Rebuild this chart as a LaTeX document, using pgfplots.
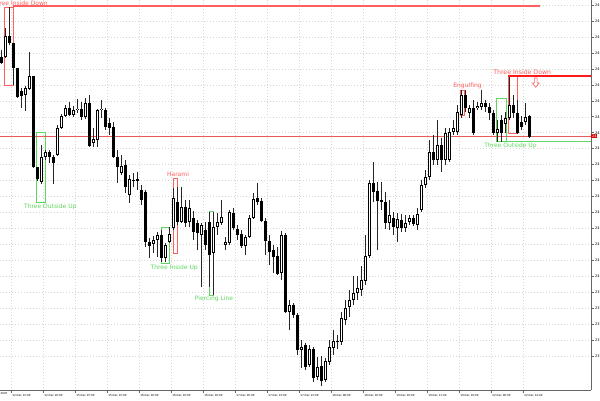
\documentclass[border=0pt]{standalone}
\usepackage{fontspec}
\setmainfont{DejaVu Sans}
\usepackage{pgfplots}
\usepackage{pgfplotstable}
\pgfplotsset{compat=1.18}
\definecolor{patred}{RGB}{255,95,95}
\definecolor{patgreen}{RGB}{95,215,95}
\definecolor{bidline}{RGB}{235,90,90}

% candles: x position, open, high, low, close (y measured downwards, as on screen)
\pgfplotstableread{
x o h l c
1.3 57 50 64 63
5.3 57 28 58 36
9.3 36 7 45 43
13.3 43 43 85 68
17.3 68 68 98 97
21.3 91 88 108 96
25.3 95 86 111 88
29.3 89 52 90 76
33.3 76 76 168 167
37.3 167 167 181 179
41.3 182 145 184 157
45.3 157 150 160 152
49.3 152 150 163 157
53.3 157 155 184 163
57.3 155 125 156 128
61.3 128 114 129 116
65.3 116 105 117 108
69.3 108 102 116 115
73.3 115 106 117 110
77.3 110 99 113 109
81.3 109 102 120 117
85.3 117 98 119 103
89.3 103 95 147 146
93.3 143 128 147 139
97.3 140 109 147 110
101.3 110 100 118 109
105.3 110 108 130 127
109.3 123 118 135 128
113.3 127 122 158 157
117.3 157 150 183 167
121.3 173 155 175 166
125.3 165 160 193 187
129.3 195 175 203 179
133.3 180 173 187 180
137.3 179 172 190 181
141.3 190 185 205 200
145.3 192 190 247 242
149.3 242 238 258 246
153.3 244 236 253 240
157.3 240 232 257 235
161.3 235 230 262 258
165.3 258 243 262 245
169.3 242 227 243 234
173.3 228 188 230 198
177.3 202 187 225 222
181.3 222 187 223 207
185.3 207 200 227 223
189.3 222 200 227 208
193.3 218 211 240 232
197.3 223 220 250 233
201.3 235 223 287 225
205.3 230 222 250 245
209.3 222 212 287 255
213.3 253 212 295 227
217.3 227 213 235 222
221.3 223 200 225 217
225.3 245 237 250 242
229.3 243 210 245 212
233.3 213 208 230 228
237.3 229 225 240 235
241.3 234 230 248 246
245.3 246 235 255 237
249.3 237 215 238 218
253.3 218 193 219 199
257.3 198 183 205 202
261.3 201 198 222 221
265.3 221 218 255 241
269.3 241 235 265 252
273.3 250 245 273 257
277.3 256 247 275 274
281.3 273 231 280 235
285.3 235 233 313 312
289.3 312 300 330 305
293.3 305 303 318 315
297.3 315 313 355 350
301.3 350 340 368 347
305.3 345 343 370 367
309.3 365 345 367 349
313.3 349 347 382 378
317.3 377 357 380 367
321.3 366 356 386 381
325.3 380 358 382 361
329.3 362 340 365 347
333.3 348 330 355 341
337.3 341 335 349 342
341.3 342 312 345 318
345.3 320 300 325 308
349.3 307 290 317 300
353.3 300 276 305 293
357.3 293 276 300 288
361.3 290 266 296 280
365.3 281 235 285 256
369.3 256 180 258 183
373.3 183 162 202 192
377.3 191 182 250 201
381.3 200 182 210 202
385.3 202 192 229 223
389.3 223 200 230 215
393.3 218 212 235 227
397.3 228 213 242 219
401.3 220 214 232 228
405.3 228 215 232 223
409.3 222 215 225 218
413.3 218 215 226 224
417.3 225 208 230 214
421.3 210 180 212 185
425.3 185 170 188 177
429.3 177 140 180 152
433.3 152 135 165 160
437.3 160 120 165 145
441.3 145 138 172 160
445.3 160 128 165 133
449.3 160 128 162 132
453.3 132 120 135 128
457.3 132 105 135 112
461.3 115 90 118 95
465.3 95 90 112 108
469.3 113 105 118 108
473.3 108 100 135 133
477.3 108 102 110 106
481.3 107 90 110 103
485.3 103 100 112 107
489.3 107 103 120 113
493.3 113 110 135 133
497.3 133 120 142 129
501.3 120 115 142 133
505.3 124 112 133 118
509.3 118 77 120 105
513.3 105 95 118 113
517.3 113 100 134 133
521.3 122 116 130 127
525.3 122 103 125 117
529.3 116 115 138 137
}\candles

\begin{document}
\begin{tikzpicture}
\begin{axis}[
  at={(-30pt,0pt)}, anchor=south west,
  scale only axis, width=621pt, height=390pt,
  xmin=-30, xmax=591, ymin=0, ymax=390,
  y dir=reverse,
  axis x line*=bottom, axis y line*=right,
  axis line style={black!60, line width=0.9pt, -},
  tick align=outside, major tick length=3pt,
  tick style={black!60, line width=0.6pt},
  xtick={11.7,43.7,75.7,107.7,139.7,171.7,203.7,235.7,267.7,299.7,331.7,363.7,395.7,427.7,459.7,491.7,523.7},
  xticklabels={12 Dec 12:00,12 Dec 20:00,15 Dec 07:00,15 Dec 15:00,16 Dec 02:00,16 Dec 10:00,16 Dec 18:00,17 Dec 05:00,17 Dec 13:00,17 Dec 21:00,18 Dec 08:00,18 Dec 16:00,19 Dec 03:00,19 Dec 11:00,19 Dec 19:00,22 Dec 06:00,22 Dec 14:00},
  xticklabel style={font=\fontsize{2.7}{3}\selectfont, anchor=north west, inner xsep=0.5pt, inner ysep=1pt},
  % price labels: only the leading digits fit inside the picture
  ytick={356,340.05,324.1,308.15,292.2,276.25,260.3,244.35,228.4,212.45,196.5,180.55,164.6,148.65,132.7,116.75,100.8,84.85,68.9,52.95,37,21.05,5.1},
  yticklabels={23,23,23,23,23,24,24,24,24,24,24,24,24,24,24,24,24,24,24,24,24,24,24},
  yticklabel style={font=\fontsize{3.6}{4}\selectfont, anchor=west, inner xsep=0.8pt},
  grid=major,
  grid style={black!16, line width=0.5pt, dash pattern=on 1pt off 2pt},
  clip=false,
]
% pattern boxes and levels
\draw[patred, line width=1pt] (axis cs:4.5,7) rectangle (axis cs:13.5,85);
\draw[patred, line width=1.3pt] (axis cs:13.5,6) -- (axis cs:540,6);
\draw[patgreen, line width=0.9pt] (axis cs:36.3,132) rectangle (axis cs:45,202);
\draw[patgreen, line width=0.9pt] (axis cs:161,227.3) rectangle (axis cs:169.3,263.3);
\draw[patred, line width=0.9pt] (axis cs:173.3,178) rectangle (axis cs:177.8,253);
\draw[patgreen, line width=0.9pt] (axis cs:209,211.7) rectangle (axis cs:213.7,295);
\draw[patred, line width=0.9pt] (axis cs:460,90) rectangle (axis cs:464.3,115);
\draw[patgreen, line width=0.9pt] (axis cs:496.7,98.3) rectangle (axis cs:506,141.7);
\draw[patgreen, line width=1.1pt] (axis cs:496.7,141.7) -- (axis cs:591,141.7);
\draw[patred, line width=0.9pt] (axis cs:508.3,76) rectangle (axis cs:517.3,133.3);
\draw[red!90, line width=1.1pt] (axis cs:508.3,76) -- (axis cs:591,76);
\draw[bidline, line width=0.8pt] (axis cs:-30,136) -- (axis cs:591,136);

% wicks
\addplot[draw=none, mark=none, forget plot,
  error bars/.cd, y dir=plus, y explicit, error mark=none,
  error bar style={draw=black!85, line width=0.9pt}]
  table[x=x, y=h, y error expr=\thisrow{l}-\thisrow{h}] {\candles};
% bodies
\addplot[draw=none, mark=none, forget plot,
  error bars/.cd, y dir=plus, y explicit, error mark=none,
  error bar style={draw=black, line width=3pt}]
  table[x=x, y expr={min(\thisrow{o},\thisrow{c})},
        y error expr={max(abs(\thisrow{c}-\thisrow{o}),1)}] {\candles};
% hollow inside of rising candles
\addplot[draw=none, mark=none, forget plot, unbounded coords=discard,
  error bars/.cd, y dir=plus, y explicit, error mark=none,
  error bar style={draw=white, line width=1.3pt, shorten <=0.85pt, shorten >=0.85pt}]
  table[x=x, y expr={\thisrow{c}<\thisrow{o} ? \thisrow{c} : nan},
        y error expr={\thisrow{o}-\thisrow{c}}] {\candles};

% labels
\node[patred, font=\fontsize{6}{7}\selectfont, anchor=east, inner sep=0pt] at (axis cs:48,3.3) {Three Inside Down};
\node[patgreen, font=\fontsize{6}{7}\selectfont, inner sep=0pt] at (axis cs:50.3,206.5) {Three Outside Up};
\node[patred, font=\fontsize{6}{7}\selectfont, inner sep=0pt] at (axis cs:178,174.5) {Harami};
\node[patgreen, font=\fontsize{6}{7}\selectfont, inner sep=0pt] at (axis cs:174.2,267.8) {Three Inside Up};
\node[patgreen, font=\fontsize{6}{7}\selectfont, inner sep=0pt] at (axis cs:214,298.5) {Piercing Line};
\node[patred, font=\fontsize{6}{7}\selectfont, inner sep=0pt] at (axis cs:467.5,85.5) {Engulfing};
\node[patred, font=\fontsize{6.2}{7}\selectfont, inner sep=0pt] at (axis cs:522.2,72.6) {Three Inside Down};
\node[patgreen, font=\fontsize{6}{7}\selectfont, inner sep=0pt] at (axis cs:510.5,146.3) {Three Outside Up};
\draw[patred, line width=0.6pt] (axis cs:534.3,78) -- (axis cs:534.3,83) -- (axis cs:532.3,83)
  -- (axis cs:535.7,87.3) -- (axis cs:539.1,83) -- (axis cs:537.1,83) -- (axis cs:537.1,78) -- cycle;
\node[fill=red!85!black, text=white, font=\fontsize{3.6}{4}\selectfont, anchor=west, inner xsep=0.8pt, inner ysep=1pt] at (axis cs:591,136) {24};
\node[font=\fontsize{2.7}{3}\selectfont, anchor=north west, inner xsep=0pt, inner ysep=1pt] at (axis cs:-10,391.5) {12 Dec 2025};
\end{axis}
\pgfresetboundingbox
\path[use as bounding box] (0pt,-10pt) rectangle (600pt,390pt);
\end{tikzpicture}
\end{document}
